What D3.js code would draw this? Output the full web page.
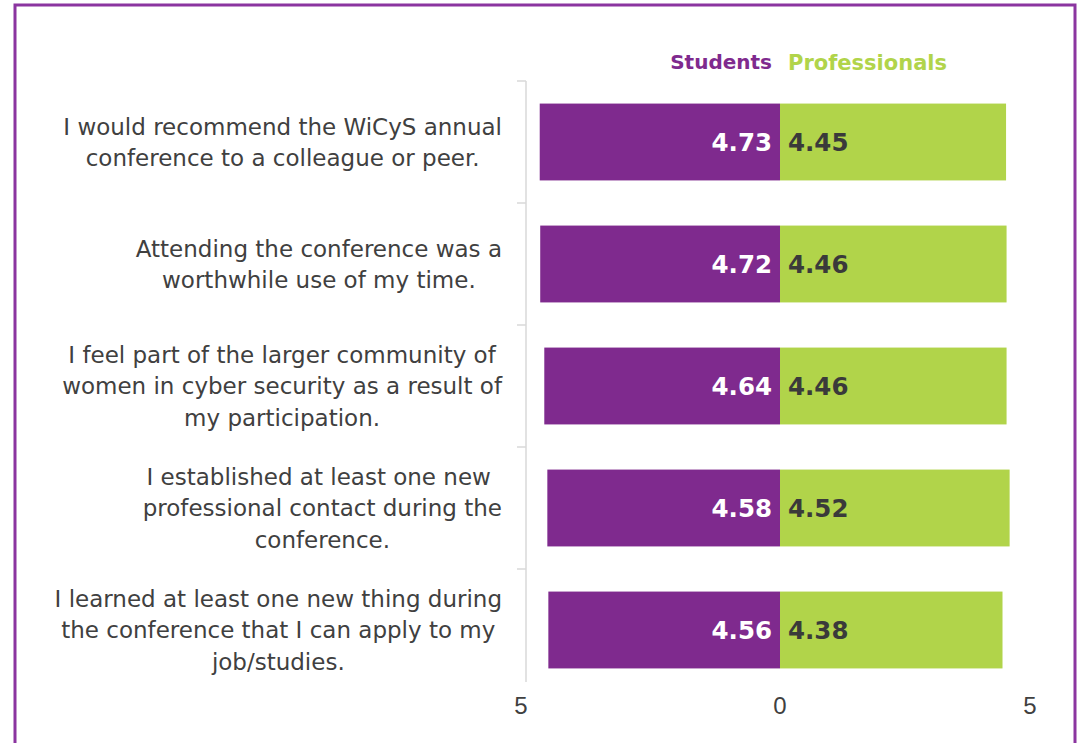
<!DOCTYPE html>
<html><head><meta charset="utf-8">
<script src="https://cdn.jsdelivr.net/npm/d3@7"></script>
<style>
html,body{margin:0;padding:0;background:#fff;}
svg{display:block;}
</style></head>
<body>
<svg id="chart" width="1078" height="743"></svg>
<script>
const categories = [
  ["I would recommend the WiCyS annual", "conference to a colleague or peer."],
  ["Attending the conference was a", "worthwhile use of my time."],
  ["I feel part of the larger community of", "women in cyber security as a result of", "my participation."],
  ["I established at least one new ", "professional contact during the", "conference."],
  ["I learned at least one new thing during", "the conference that I can apply to my", "job/studies."]
];
const students = [4.73, 4.72, 4.64, 4.58, 4.56];
const professionals = [4.45, 4.46, 4.46, 4.52, 4.38];
const seriesNames = ["Students", "Professionals"];
const tickValues = [-5, 0, 5];

const purple = "#7f2a8e", green = "#b1d44a", textCol = "#404040";
const font = "'DejaVu Sans', sans-serif";

const svg = d3.select("#chart");
// frame
svg.append("rect").attr("x", 15).attr("y", 5).attr("width", 1060).attr("height", 760)
  .attr("fill", "none").attr("stroke", "#8b35a0").attr("stroke-width", 3);

const x = d3.scaleLinear().domain([-5, 5]).range([526, 1034]);
const idx = d3.range(categories.length);
const y = d3.scaleBand().domain(idx).range([81, 691]).paddingInner(0.37).paddingOuter(0.185);
const step = y.step();

// axis line and ticks
const axisG = svg.append("g");
axisG.append("line").attr("x1", x(-5)).attr("x2", x(-5))
  .attr("y1", y.range()[0]).attr("y2", y.range()[1] - 9)
  .attr("stroke", "#d9d9d9").attr("stroke-width", 1.5);
axisG.selectAll("line.tick").data(idx).join("line").attr("class", "tick")
  .attr("x1", x(-5) - 9).attr("x2", x(-5))
  .attr("y1", d => y.range()[0] + d * step).attr("y2", d => y.range()[0] + d * step)
  .attr("stroke", "#d9d9d9").attr("stroke-width", 1.5);

// bars
svg.selectAll("rect.stu").data(idx).join("rect").attr("class", "stu")
  .attr("x", d => x(-students[d])).attr("width", d => x(0) - x(-students[d]))
  .attr("y", d => y(d)).attr("height", y.bandwidth()).attr("fill", purple);
svg.selectAll("rect.pro").data(idx).join("rect").attr("class", "pro")
  .attr("x", x(0)).attr("width", d => x(professionals[d]) - x(0))
  .attr("y", d => y(d)).attr("height", y.bandwidth()).attr("fill", green);

// value labels
svg.selectAll("text.sv").data(idx).join("text").attr("class", "sv")
  .attr("x", x(0) - 8).attr("y", d => y(d) + y.bandwidth() / 2)
  .attr("dy", "0.36em").attr("text-anchor", "end")
  .attr("font-family", font).attr("font-weight", "bold").attr("font-size", 24.5)
  .attr("fill", "#fff").text(d => students[d].toFixed(2));
svg.selectAll("text.pv").data(idx).join("text").attr("class", "pv")
  .attr("x", x(0) + 8).attr("y", d => y(d) + y.bandwidth() / 2)
  .attr("dy", "0.36em").attr("text-anchor", "start")
  .attr("font-family", font).attr("font-weight", "bold").attr("font-size", 24.5)
  .attr("fill", "#3a3a3a").text(d => professionals[d].toFixed(2));

// legend
svg.append("text").attr("x", x(0) - 8).attr("y", 62).attr("dy", "0.36em")
  .attr("text-anchor", "end").attr("font-family", font).attr("font-weight", "bold")
  .attr("font-size", 20).attr("fill", purple).text(seriesNames[0]);
svg.append("text").attr("x", x(0) + 8).attr("y", 62).attr("dy", "0.36em")
  .attr("text-anchor", "start").attr("font-family", font).attr("font-weight", "bold")
  .attr("font-size", 21).attr("fill", green).text(seriesNames[1]);

// category labels (centered lines, right-aligned block)
const lineH = 31.5, rightEdge = 502;
idx.forEach(i => {
  const lines = categories[i];
  const g = svg.append("g");
  const cy = y(i) + y.bandwidth() / 2;
  const texts = lines.map((ln, k) => g.append("text")
    .attr("y", cy + (k - (lines.length - 1) / 2) * lineH)
    .attr("dy", "0.36em").attr("text-anchor", "middle").attr("xml:space", "preserve")
    .style("white-space", "pre")
    .attr("font-family", font).attr("font-size", 23).attr("fill", textCol).text(ln));
  const maxW = d3.max(texts, t => t.node().getComputedTextLength());
  texts.forEach(t => t.attr("x", rightEdge - maxW / 2));
});

// x tick labels
svg.selectAll("text.xt").data(tickValues).join("text").attr("class", "xt")
  .attr("x", d => x(d) + (d < 0 ? -5 : (d > 0 ? -4 : 0))).attr("y", 705).attr("dy", "0.36em")
  .attr("text-anchor", "middle").attr("font-family", "'Liberation Sans', sans-serif")
  .attr("font-size", 24).attr("fill", textCol).text(d => Math.abs(d));
</script>
</body></html>
